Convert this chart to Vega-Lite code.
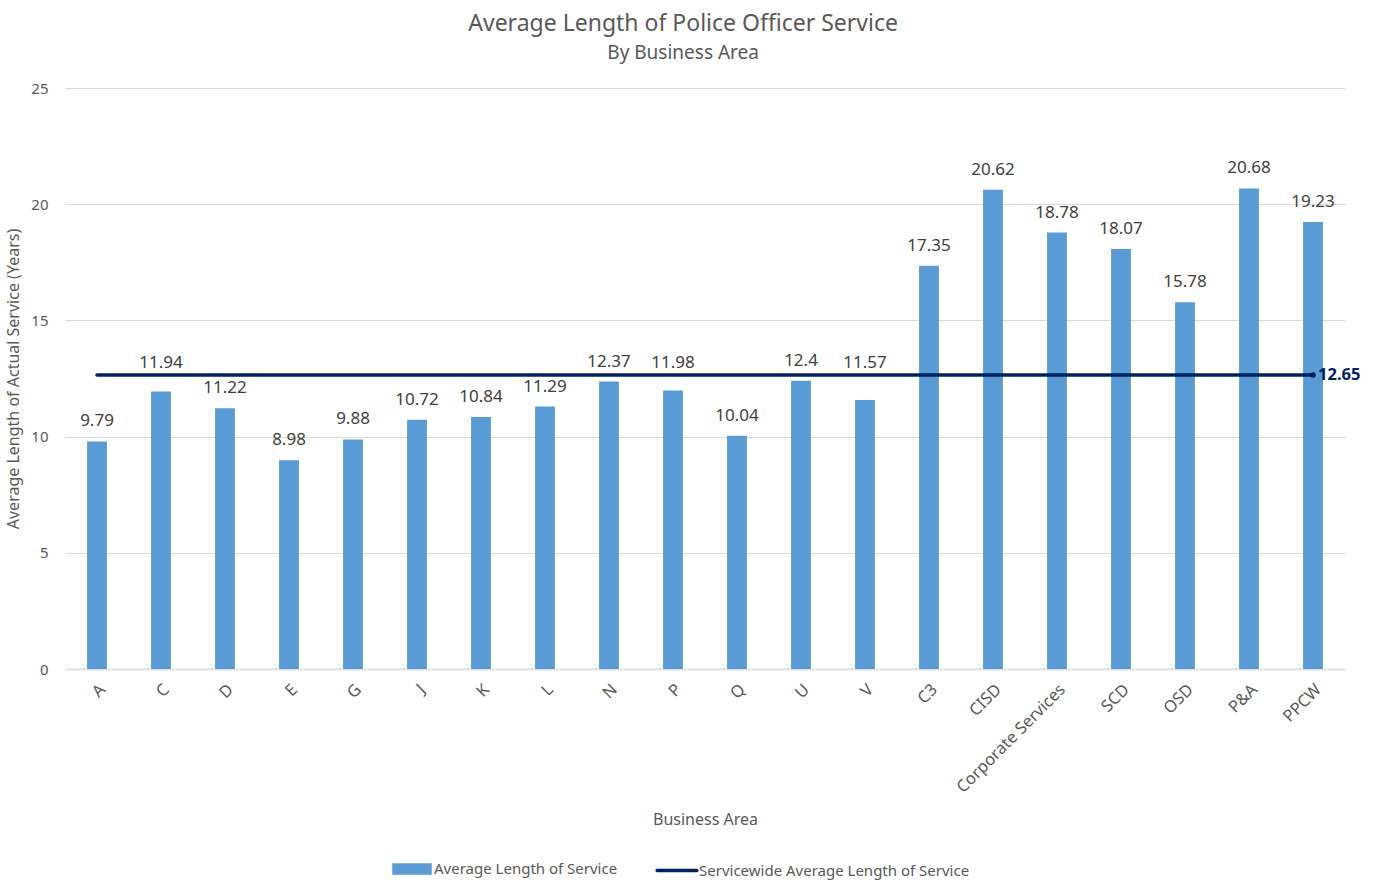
{
  "$schema": "https://vega.github.io/schema/vega-lite/v6.json",
  "autosize": "none",
  "width": 1280,
  "height": 581,
  "padding": {"left": 65, "top": 88, "right": 28, "bottom": 221},
  "background": "white",
  "config": {
    "font": "Noto Sans",
    "view": {"stroke": null},
    "axis": {"labelColor": "#595959", "titleColor": "#595959", "labelFont": "Noto Sans", "titleFont": "Noto Sans", "titleFontWeight": "normal"}
  },
  "title": {
    "text": "Average Length of Police Officer Service",
    "subtitle": "By Business Area",
    "anchor": "middle",
    "frame": "bounds",
    "font": "Noto Sans",
    "subtitleFont": "Noto Sans",
    "fontSize": 23,
    "fontWeight": "normal",
    "color": "#595959",
    "subtitleFontSize": 19,
    "subtitleColor": "#595959",
    "subtitlePadding": 8,
    "offset": 18
  },
  "data": {
    "values": [
      {"area": "A", "service": 9.79, "servicewide": 12.65},
      {"area": "C", "service": 11.94, "servicewide": 12.65},
      {"area": "D", "service": 11.22, "servicewide": 12.65},
      {"area": "E", "service": 8.98, "servicewide": 12.65},
      {"area": "G", "service": 9.88, "servicewide": 12.65},
      {"area": "J", "service": 10.72, "servicewide": 12.65},
      {"area": "K", "service": 10.84, "servicewide": 12.65},
      {"area": "L", "service": 11.29, "servicewide": 12.65},
      {"area": "N", "service": 12.37, "servicewide": 12.65},
      {"area": "P", "service": 11.98, "servicewide": 12.65},
      {"area": "Q", "service": 10.04, "servicewide": 12.65},
      {"area": "U", "service": 12.4, "servicewide": 12.65},
      {"area": "V", "service": 11.57, "servicewide": 12.65},
      {"area": "C3", "service": 17.35, "servicewide": 12.65},
      {"area": "CISD", "service": 20.62, "servicewide": 12.65},
      {"area": "Corporate Services", "service": 18.78, "servicewide": 12.65},
      {"area": "SCD", "service": 18.07, "servicewide": 12.65},
      {"area": "OSD", "service": 15.78, "servicewide": 12.65},
      {"area": "P&A", "service": 20.68, "servicewide": 12.65},
      {"area": "PPCW", "service": 19.23, "servicewide": 12.65}
    ]
  },
  "encoding": {
    "x": {
      "field": "area",
      "type": "nominal",
      "sort": null,
      "scale": {"paddingInner": 0.69, "paddingOuter": 0.345},
      "axis": {
        "title": "Business Area",
        "titleFontSize": 16,
        "titlePadding": 16,
        "labelAngle": -45,
        "labelFontSize": 16.5,
        "labelPadding": 12,
        "ticks": false,
        "domainColor": "#D9D9D9",
        "domainWidth": 1.5,
        "grid": false
      }
    }
  },
  "layer": [
    {
      "mark": {"type": "bar", "color": "#5B9BD5"},
      "encoding": {
        "y": {
          "field": "service",
          "type": "quantitative",
          "scale": {"domain": [0, 25], "nice": false},
          "axis": {
            "title": "Average Length of Actual Service (Years)",
            "titleFontSize": 16,
            "titlePadding": 9,
            "values": [0, 5, 10, 15, 20, 25],
            "labelFontSize": 15,
            "labelPadding": 17,
            "ticks": false,
            "domain": false,
            "gridColor": "#D9D9D9",
            "gridWidth": 1
          }
        },
        "color": {
          "datum": "Average Length of Service",
          "type": "nominal",
          "scale": {
            "domain": ["Average Length of Service", "Servicewide Average Length of Service"],
            "range": ["#5B9BD5", "#002060"]
          },
          "legend": {
            "title": null,
            "orient": "none",
            "legendX": 327,
            "legendY": 761,
            "direction": "horizontal",
            "labelFontSize": 15,
            "labelColor": "#595959",
            "labelFont": "Noto Sans",
            "labelLimit": 500,
            "labelOffset": 2,
            "columnPadding": 32,
            "symbolSize": 1296,
            "symbolStrokeWidth": 3,
            "encode": {
              "symbols": {
                "update": {
                  "shape": {"signal": "datum.label === 'Average Length of Service' ? 'M-1,-0.22H1V0.22H-1Z' : 'M-1.1,0H1.1'"},
                  "fill": {"signal": "datum.label === 'Average Length of Service' ? '#5B9BD5' : 'transparent'"},
                  "stroke": {"signal": "datum.label === 'Average Length of Service' ? 'transparent' : '#002060'"},
                  "strokeWidth": {"value": 3.5},
                  "strokeCap": {"value": "round"}
                }
              }
            }
          }
        }
      }
    },
    {
      "mark": {
        "type": "text",
        "baseline": "middle",
        "dy": {"expr": "(datum.service > 11.4 && datum.service < 12.2) ? scale('y', 12.65) - scale('y', datum.service) - 12 : -20"},
        "fontSize": 17,
        "color": "#404040",
        "font": "Noto Sans"
      },
      "encoding": {
        "y": {"field": "service", "type": "quantitative"},
        "text": {"field": "service", "type": "quantitative"}
      }
    },
    {
      "mark": {"type": "line", "strokeWidth": 3.5, "strokeCap": "round"},
      "encoding": {
        "y": {"field": "servicewide", "type": "quantitative"},
        "color": {"datum": "Servicewide Average Length of Service", "type": "nominal"}
      }
    },
    {
      "transform": [{"filter": "datum.area === 'PPCW'"}],
      "mark": {"type": "point", "filled": true, "size": 30, "color": "#002060", "opacity": 1},
      "encoding": {
        "y": {"field": "servicewide", "type": "quantitative"}
      }
    },
    {
      "transform": [{"filter": "datum.area === 'PPCW'"}],
      "mark": {"type": "text", "align": "left", "baseline": "middle", "dx": 5, "fontSize": 16.5, "fontWeight": "bold", "color": "#002060", "font": "Noto Sans"},
      "encoding": {
        "y": {"field": "servicewide", "type": "quantitative"},
        "text": {"field": "servicewide", "type": "quantitative"}
      }
    }
  ]
}
